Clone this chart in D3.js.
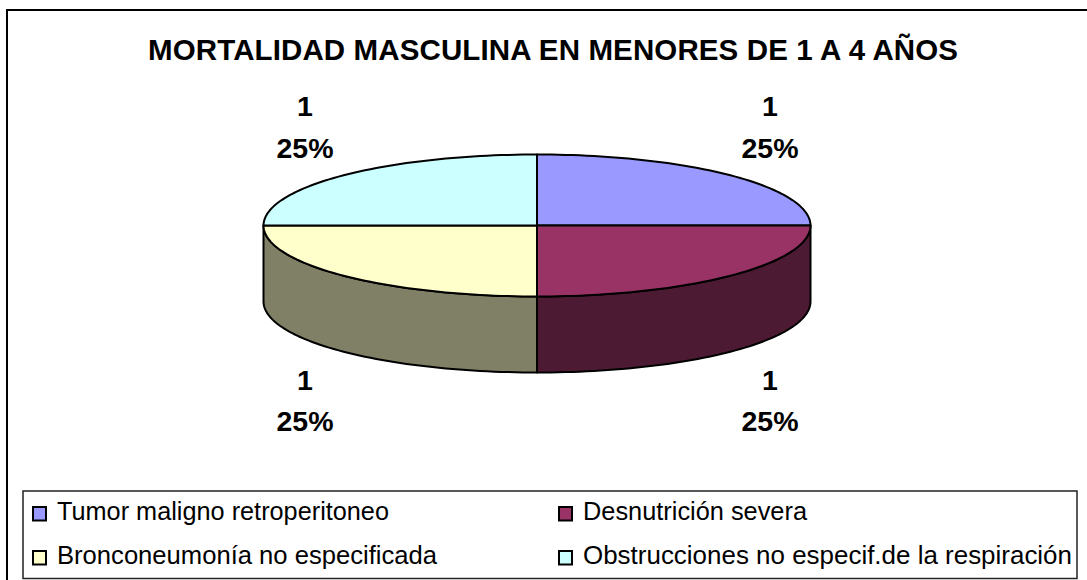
<!DOCTYPE html>
<html><head><meta charset="utf-8">
<style>html,body{margin:0;padding:0;background:#fff;overflow:hidden}svg{display:block}</style>
<script src="https://cdn.jsdelivr.net/npm/d3@7"></script></head>
<body><svg id="c" width="1087" height="580"></svg>
<script>
const titleText = "MORTALIDAD MASCULINA EN MENORES DE 1 A 4 AÑOS";
const categories = ["Tumor maligno retroperitoneo","Desnutrición severa","Bronconeumonía no especificada","Obstrucciones no especif.de la respiración"];
const values = [1,1,1,1];
const topColors = ["#9999ff","#993366","#ffffcc","#ccffff"];
const sideColors = ["#4d4d80","#4d1a33","#808066","#668080"];
const legendTextWidths = [332,224,380,489];
const font = "Liberation Sans, Arial, sans-serif";
const svg = d3.select("#c");
svg.append("rect").attr("x",7).attr("y",10).attr("width",1100).attr("height",600).attr("fill","#fff").attr("stroke","#000").attr("stroke-width",2);
svg.append("text").attr("x",553).attr("y",60).attr("text-anchor","middle").attr("font-family",font).attr("font-weight","bold").attr("font-size",29.5).attr("textLength",810).attr("lengthAdjust","spacing").text(titleText);
const cx=537, cy=225.5, rx=273.5, ry=71, depth=76;
const pie = d3.pie().sort(null).value(d=>d)(values);
const arcPts=(a0,a1,dy)=>d3.range(0,61).map(i=>{const a=a0+(a1-a0)*i/60;return [cx+rx*Math.sin(a),cy+dy-ry*Math.cos(a)];});
const line=d3.line();
pie.forEach((p,i)=>{
  const a0=Math.max(p.startAngle,Math.PI/2), a1=Math.min(p.endAngle,3*Math.PI/2);
  if(a1<=a0) return;
  const t=arcPts(a0,a1,0), b=arcPts(a0,a1,depth).reverse();
  svg.append("path").attr("d",line(t.concat(b))+"Z").attr("fill",sideColors[i]).attr("stroke","#000").attr("stroke-width",2).attr("stroke-linejoin","round");
});
pie.forEach((p,i)=>{
  svg.append("path").attr("d",line([[cx,cy]].concat(arcPts(p.startAngle,p.endAngle,0)))+"Z").attr("fill",topColors[i]).attr("stroke","#000").attr("stroke-width",2).attr("stroke-linejoin","round");
});
const labelPos=[[770,116,158],[770,390,431],[305,390,431],[305,116,158]];
pie.forEach((p,i)=>{
  const [x,y1,y2]=labelPos[i];
  const pct=d3.format(".0%")(p.value/d3.sum(values));
  [[y1,String(p.value)],[y2,pct]].forEach(([y,t])=>svg.append("text").attr("x",x).attr("y",y).attr("text-anchor","middle").attr("font-family",font).attr("font-weight","bold").attr("font-size",28.5).text(t));
});
svg.append("rect").attr("x",23).attr("y",491).attr("width",1054).attr("height",87.5).attr("fill","#fff").attr("stroke","#222").attr("stroke-width",1.5);
const legPos=[[33,520],[559,520],[33,564],[559,564]];
categories.forEach((c,i)=>{
  const [x,y]=legPos[i];
  svg.append("rect").attr("x",x).attr("y",y-13).attr("width",13).attr("height",13.5).attr("fill",topColors[i]).attr("stroke","#000").attr("stroke-width",2);
  svg.append("text").attr("x",x+24).attr("y",y).attr("font-family",font).attr("font-size",25.7).attr("textLength",legendTextWidths[i]).attr("lengthAdjust","spacingAndGlyphs").text(c);
});
</script></body></html>
